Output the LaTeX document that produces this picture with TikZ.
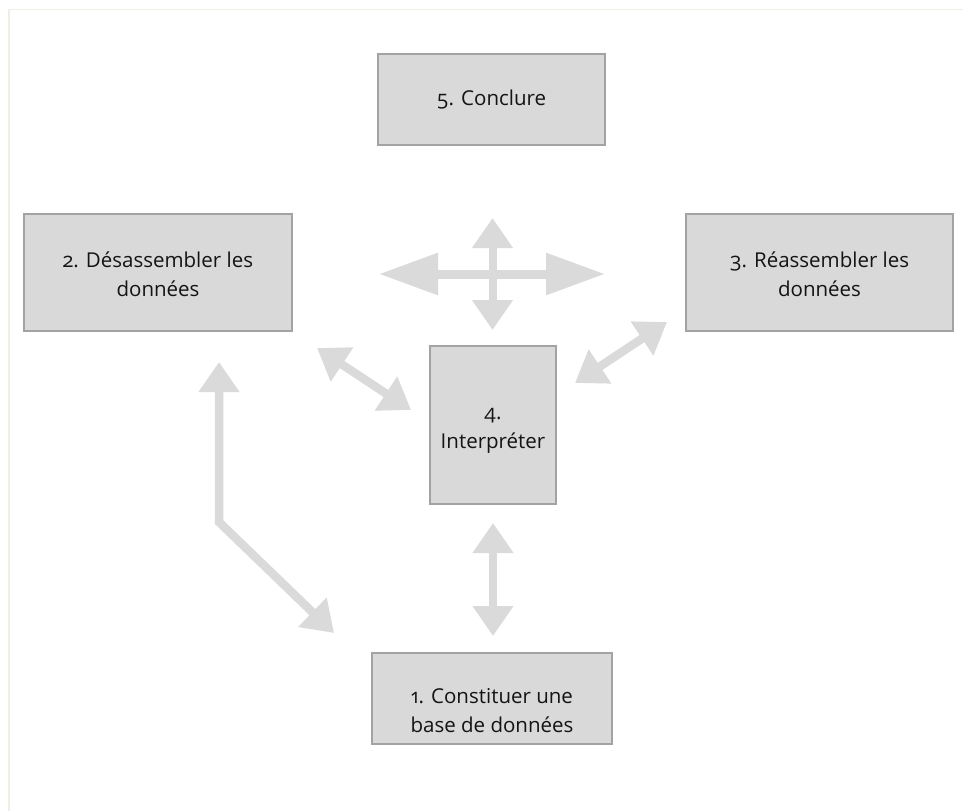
\documentclass[tikz,border=0pt]{standalone}
\usepackage{fontspec}
\setmainfont{Open Sans}[Numbers=OldStyle]
\usetikzlibrary{arrows.meta}
\definecolor{boxfill}{HTML}{D9D9D9}
\definecolor{boxline}{HTML}{A3A3A3}
\definecolor{arrowgray}{HTML}{DADADA}
\definecolor{framegray}{HTML}{EFEFE8}
\definecolor{inkgray}{HTML}{141414}
\tikzset{
  stagebox/.style={draw=boxline, fill=boxfill, line width=1.2pt, inner sep=0pt},
  stagetext/.style={align=center, text=inkgray, font=\fontsize{20.5}{29}\selectfont},
  twoway/.style={draw=arrowgray, line width=8.5pt, line join=miter,
    {Triangle[length=30pt,width=39pt]}-{Triangle[length=30pt,width=39pt]}},
  twowaylong/.style={draw=arrowgray, line width=9pt,
    {Triangle[length=59pt,width=40pt]}-{Triangle[length=59pt,width=40pt]}},
}
\begin{document}
\begin{tikzpicture}[x=1pt,y=-1pt]
  \useasboundingbox (0,0) rectangle (963,811);
  \fill[white] (0,0) rectangle (963,811);
  % faint page frame
  \draw[framegray, line width=1.5pt] (9,811) -- (9,9.5) -- (963,9.5);

  % stage boxes
  \node[stagebox, minimum width=227pt, minimum height=91pt] (b5) at (491.5,99.5) {};
  \node[stagebox, minimum width=268pt, minimum height=117pt] (b2) at (158,272.5) {};
  \node[stagebox, minimum width=267pt, minimum height=117pt] (b3) at (819.5,272.5) {};
  \node[stagebox, minimum width=126pt, minimum height=158pt] (b4) at (493,425) {};
  \node[stagebox, minimum width=240pt, minimum height=91pt] (b1) at (492,698.5) {};

  % stage labels
  \node[stagetext] (t5) at (b5.center) {5. Conclure};
  \node[stagetext] (t2) at ([yshift=-2pt]b2.center) {2. Désassembler les\\données};
  \node[stagetext] (t3) at ([yshift=-2pt]b3.center) {3. Réassembler les\\données};
  \node[stagetext] (t4) at ([yshift=-6pt]b4.center) {4.\\Interpréter};
  \node[stagetext] (t1) at ([yshift=-12pt]b1.center) {1. Constituer une\\base de données};

  % arrow end points
  \coordinate (hl) at (379,274);
  \coordinate (hr) at (605,274);
  \coordinate (vt) at (492.5,218);
  \coordinate (vb) at (492.5,330);
  \coordinate (dla) at (317,348);
  \coordinate (dlb) at (411,410);
  \coordinate (dra) at (667,322);
  \coordinate (drb) at (575,383);
  \coordinate (ma) at (493,523);
  \coordinate (mb) at (493,636);
  \coordinate (ka) at (219,362);
  \coordinate (kc) at (219,522);
  \coordinate (kb) at (334,633);

  % arrows
  \draw[twowaylong] (hl) -- (hr);
  \draw[twoway, line width=8pt] (vt) -- (vb);
  \draw[twoway] (dla) -- (dlb);
  \draw[twoway] (dra) -- (drb);
  \draw[twoway, line width=8pt] (ma) -- (mb);
  \draw[twoway] (ka) -- (kc) -- (kb);
\end{tikzpicture}
\end{document}
